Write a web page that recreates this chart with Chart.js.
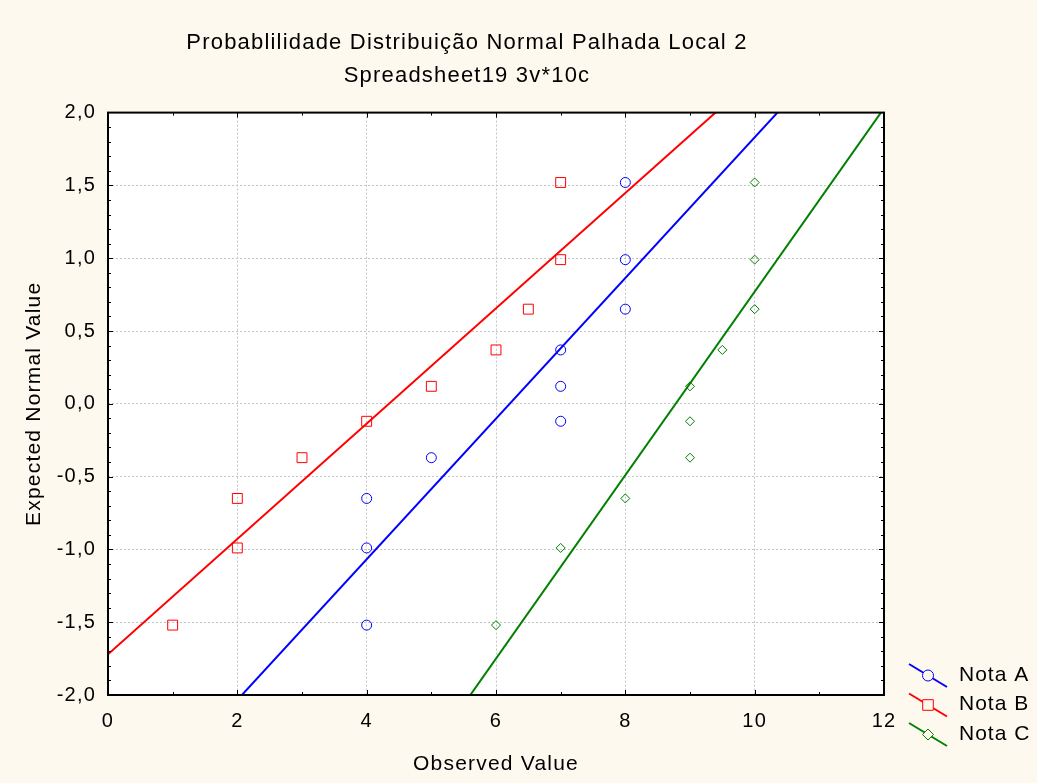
<!DOCTYPE html>
<html>
<head>
<meta charset="utf-8">
<script src="https://cdn.jsdelivr.net/npm/chart.js@4.4.1/dist/chart.umd.min.js"></script>
<style>
  html, body { margin: 0; padding: 0; background: #fdf9ee; }
  canvas { display: block; }
</style>
</head>
<body>
<canvas id="probChart" width="1037" height="783"></canvas>
<script>
// Data
const seriesNames = ["Nota A", "Nota B", "Nota C"];
const expectedValues = [-1.52, -0.99, -0.65, -0.37, -0.12, 0.12, 0.37, 0.65, 0.99, 1.52];
const notaA = [4, 4, 4, 5, 7, 7, 7, 8, 8, 8];
const notaB = [1, 2, 2, 3, 4, 5, 6, 6.5, 7, 7];
const notaC = [6, 7, 8, 9, 9, 9, 9.5, 10, 10, 10];
// fitted lines: y = intercept + slope * x
const fitIntercepts = [-3.00, -1.72, -5.53];
const fitSlopes = [0.483, 0.396, 0.630];
// axes
const xRange = [0, 12];
const yRange = [-2, 2];
const xStep = 2;
const yStep = 0.5;

// Styles
const seriesColors = ["#0000ff", "#ff0000", "#008000"];
const seriesMarkers = ["circle", "rect", "rectRot"];
const markerRadius = [5, 7, 4.5];
const FONT = "Arial, 'Liberation Sans', sans-serif";
const CREAM = "#fdf9ee";

const observed = [notaA, notaB, notaC];

const datasets = [];
observed.forEach((vals, i) => {
  datasets.push({
    label: seriesNames[i],
    data: vals.map((v, k) => ({ x: v, y: expectedValues[k] })),
    showLine: false,
    pointStyle: seriesMarkers[i],
    pointRadius: markerRadius[i],
    pointBorderWidth: 1,
    pointBorderColor: seriesColors[i],
    pointBackgroundColor: "rgba(0,0,0,0)"
  });
});
fitIntercepts.forEach((b, i) => {
  datasets.push({
    label: seriesNames[i] + " fit",
    data: xRange.map(x => ({ x: x, y: b + fitSlopes[i] * x })),
    showLine: true,
    borderColor: seriesColors[i],
    borderWidth: 2,
    pointRadius: 0
  });
});

function fmt(v) {
  return v.toFixed(1).replace(".", ",");
}

// white plot area, letter spacing like the original
const plotBackground = {
  id: "plotBackground",
  beforeDraw(chart) {
    const { ctx, chartArea: a } = chart;
    ctx.letterSpacing = "1.2px";
    ctx.save();
    ctx.fillStyle = "#ffffff";
    ctx.fillRect(a.left, a.top, a.right - a.left, a.bottom - a.top);
    ctx.restore();
  }
};

// frame with inward major/minor ticks
const frameTicks = {
  id: "frameTicks",
  afterDatasetsDraw(chart) {
    const { ctx, chartArea: a, scales } = chart;
    ctx.save();
    ctx.strokeStyle = "#000";
    ctx.lineWidth = 1;
    ctx.beginPath();
    for (let v = xRange[0] + 1; v < xRange[1]; v++) {
      const px = Math.round(scales.x.getPixelForValue(v)) + 0.5;
      const len = v % xStep === 0 ? 5 : 3;
      ctx.moveTo(px, a.bottom); ctx.lineTo(px, a.bottom - len);
      ctx.moveTo(px, a.top); ctx.lineTo(px, a.top + len);
    }
    for (let k = 1; k < 40; k++) {
      const v = yRange[0] + k * 0.1;
      const py = Math.round(scales.y.getPixelForValue(v)) + 0.5;
      const len = k % 5 === 0 ? 5 : 3;
      ctx.moveTo(a.left, py); ctx.lineTo(a.left + len, py);
      ctx.moveTo(a.right, py); ctx.lineTo(a.right - len, py);
    }
    ctx.stroke();
    ctx.lineWidth = 2;
    ctx.strokeRect(a.left, a.top, a.right - a.left, a.bottom - a.top);
    ctx.restore();
  }
};

function drawMarker(ctx, style, x, y, r) {
  ctx.beginPath();
  if (style === "circle") {
    ctx.arc(x, y, r, 0, Math.PI * 2);
  } else if (style === "rect") {
    const s = r * Math.SQRT1_2;
    ctx.rect(x - s, y - s, 2 * s, 2 * s);
  } else {
    ctx.moveTo(x, y - r); ctx.lineTo(x + r, y);
    ctx.lineTo(x, y + r); ctx.lineTo(x - r, y);
    ctx.closePath();
  }
  ctx.fill();
  ctx.stroke();
}

// legend in the lower right corner
const sideLegend = {
  id: "sideLegend",
  afterDraw(chart) {
    const { ctx, chartArea: a } = chart;
    ctx.save();
    ctx.letterSpacing = "1px";
    ctx.font = "21px " + FONT;
    ctx.textBaseline = "middle";
    ctx.textAlign = "left";
    seriesNames.forEach((name, i) => {
      const yc = a.bottom - 20 + i * 29.5;
      const x0 = a.right + 25;
      ctx.strokeStyle = seriesColors[i];
      ctx.lineWidth = 2;
      ctx.beginPath();
      ctx.moveTo(x0, yc - 11);
      ctx.lineTo(x0 + 38, yc + 12);
      ctx.stroke();
      ctx.lineWidth = 1;
      ctx.fillStyle = CREAM;
      drawMarker(ctx, seriesMarkers[i], x0 + 19, yc + 0.5, seriesMarkers[i] === "rect" ? 7.5 : 5.5);
      ctx.fillStyle = "#000";
      ctx.fillText(name, x0 + 50, yc);
    });
    ctx.restore();
  }
};

new Chart(document.getElementById("probChart"), {
  type: "scatter",
  data: { datasets: datasets },
  options: {
    responsive: false,
    animation: false,
    layout: { padding: { left: 0, right: 103, top: 0, bottom: 0 } },
    plugins: {
      legend: { display: false },
      tooltip: { enabled: false },
      title: {
        display: true,
        text: "Probablilidade Distribuição Normal Palhada Local 2",
        color: "#000",
        font: { family: FONT, size: 22, weight: "normal", lineHeight: 1.2 },
        padding: { top: 29.8, bottom: 6.4 }
      },
      subtitle: {
        display: true,
        text: "Spreadsheet19 3v*10c",
        color: "#000",
        font: { family: FONT, size: 22, weight: "normal", lineHeight: 1.2 },
        padding: { top: 0, bottom: 23.6 }
      }
    },
    scales: {
      x: {
        type: "linear",
        min: xRange[0],
        max: xRange[1],
        afterFit(scale) { scale.height = 88; },
        ticks: {
          stepSize: xStep,
          color: "#000",
          padding: 14,
          font: { family: FONT, size: 20 },
          callback: v => String(v)
        },
        grid: {
          color: ctx => (ctx.tick && (ctx.tick.value === xRange[0] || ctx.tick.value === xRange[1])) ? "rgba(0,0,0,0)" : "#c4c4c4",
          lineWidth: 1,
          drawTicks: false
        },
        border: { display: false, dash: [2, 2] },
        title: {
          display: true,
          text: "Observed Value",
          color: "#000",
          font: { family: FONT, size: 21, lineHeight: 1.2 },
          padding: { top: 0, bottom: 6 }
        }
      },
      y: {
        type: "linear",
        position: "left",
        min: yRange[0],
        max: yRange[1],
        afterFit(scale) { scale.width = 108; },
        ticks: {
          stepSize: yStep,
          color: "#000",
          padding: 12,
          font: { family: FONT, size: 20 },
          callback: v => fmt(v)
        },
        grid: {
          color: ctx => (ctx.tick && (ctx.tick.value === yRange[0] || ctx.tick.value === yRange[1])) ? "rgba(0,0,0,0)" : "#c4c4c4",
          lineWidth: 1,
          drawTicks: false
        },
        border: { display: false, dash: [2, 2] },
        title: {
          display: true,
          text: "Expected Normal Value",
          color: "#000",
          font: { family: FONT, size: 21, lineHeight: 1.2 },
          padding: { top: 22, bottom: 0 }
        }
      },
      yRight: {
        type: "linear",
        position: "right",
        afterFit(scale) { scale.width = 50; },
        ticks: { display: false },
        grid: { display: false },
        border: { display: false }
      }
    }
  },
  plugins: [plotBackground, frameTicks, sideLegend]
});
</script>
</body>
</html>
